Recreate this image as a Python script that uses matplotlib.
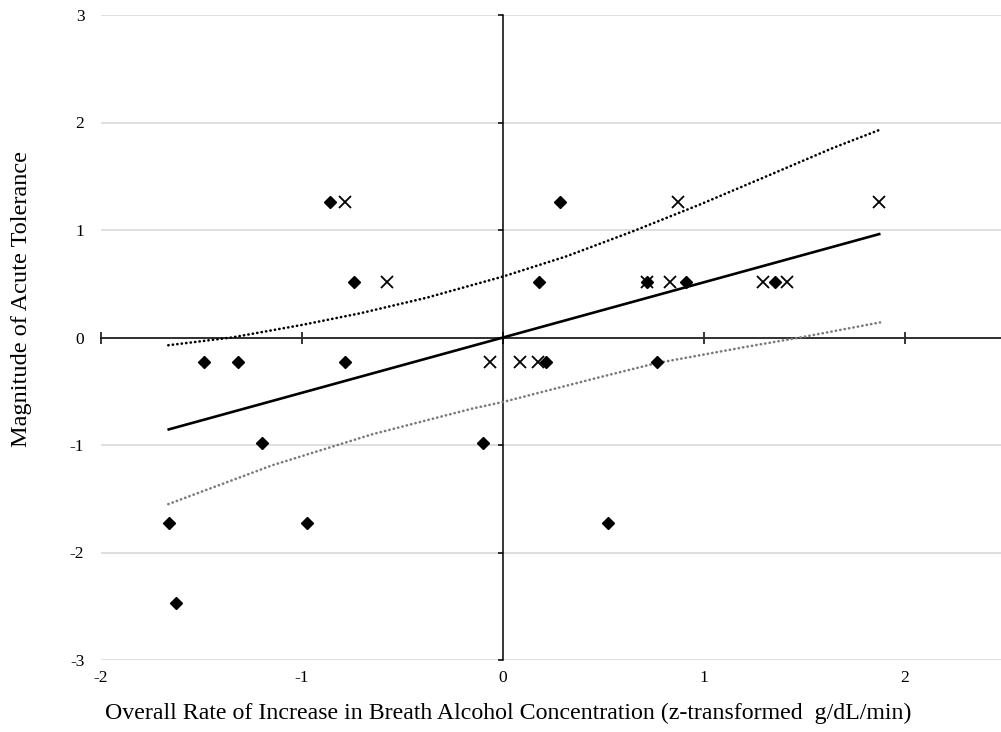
import matplotlib
matplotlib.use("Agg")
import matplotlib.pyplot as plt

plt.rcParams['font.family'] = ['Liberation Serif', 'DejaVu Serif']
plt.rcParams['axes.unicode_minus'] = False

# ---- data ----
diamond_x = [-0.86, -0.74, -1.488, -1.317, -0.786, -1.198, -0.098, -1.663, -0.977, -1.627,
             0.284, 0.179, 0.715, 0.91, 1.353, 0.764, 0.214, 0.524]
diamond_y = [1.265, 0.515, -0.23, -0.23, -0.23, -0.98, -0.98, -1.727, -1.727, -2.474,
             1.265, 0.515, 0.515, 0.515, 0.515, -0.23, -0.23, -1.727]

cross_x = [-0.785, -0.575, -0.065, 0.083, 0.176, 0.872, 1.872, 0.715, 0.831, 1.292, 1.411]
cross_y = [1.265, 0.515, -0.23, -0.23, -0.23, 1.265, 1.265, 0.515, 0.515, 0.515, 0.515]

fit_x = [-1.663, 1.872]
fit_y = [-0.855, 0.962]

upper_x = [-1.665, -1.35, -0.997, -0.711, -0.38, 0.0, 0.317, 0.648, 0.98, 1.312, 1.643, 1.872]
upper_y = [-0.072, 0.0, 0.118, 0.225, 0.37, 0.567, 0.756, 0.989, 1.237, 1.50, 1.764, 1.93]

lower_x = [-1.665, -1.15, -0.65, -0.15, 0.0, 0.48, 0.76, 1.2, 1.478, 1.876]
lower_y = [-1.55, -1.19, -0.90, -0.66, -0.60, -0.37, -0.24, -0.09, 0.0, 0.14]

x_ticks = [-2, -1, 0, 1, 2]
y_ticks = [-3, -2, -1, 0, 1, 2, 3]
x_label = "Overall Rate of Increase in Breath Alcohol Concentration (z-transformed  g/dL/min)"
y_label = "Magnitude of Acute Tolerance"

# ---- figure ----
fig = plt.figure(figsize=(10.01, 7.32), dpi=100)
ax = fig.add_axes([101 / 1001, 72 / 732, 900 / 1001, 645 / 732])
ax.set_xlim(-2, 2.478)
ax.set_ylim(-3, 3)

ax.yaxis.grid(True, color='#d9d9d9', lw=1.2, zorder=0)
ax.set_axisbelow(True)

for s in ['top', 'right']:
    ax.spines[s].set_visible(False)
ax.spines['left'].set_position(('data', 0))
ax.spines['bottom'].set_position(('data', 0))
ax.spines['left'].set_linewidth(1.1)
ax.spines['bottom'].set_linewidth(1.1)
ax.spines['left'].set_zorder(2)
ax.spines['bottom'].set_zorder(2)

ax.set_xticks(x_ticks)
ax.set_yticks(y_ticks)
ax.tick_params(axis='x', direction='inout', length=8, width=1.1, labelbottom=False)
ax.tick_params(axis='y', direction='out', length=3.6, width=1.1, labelleft=False)

# tick labels at the plot edges
sx = ax.secondary_xaxis(0.0)
sx.set_xticks(x_ticks)
sx.set_xticklabels([str(t) for t in x_ticks])
sx.tick_params(length=0, pad=7, labelsize=12.5)
sx.spines['bottom'].set_visible(False)

sy = ax.secondary_yaxis(0.0)
sy.set_yticks(y_ticks)
sy.set_yticklabels([str(t) for t in y_ticks])
sy.tick_params(length=0, pad=12, labelsize=12.5)
sy.spines['left'].set_visible(False)

# lines
dots = (0, (0.1, 1.6))
ax.plot(upper_x, upper_y, color='black', lw=1.9, linestyle=dots,
        dash_capstyle='round', zorder=3)
ax.plot(lower_x, lower_y, color='#7a7a7a', lw=1.9, linestyle=dots,
        dash_capstyle='round', zorder=3)
ax.plot(fit_x, fit_y, color='black', lw=1.9, zorder=3)

# markers
ax.plot(diamond_x, diamond_y, linestyle='none', marker='D', ms=6.5, color='black', zorder=4)
ax.plot(cross_x, cross_y, linestyle='none', marker='x', ms=8, mew=1.3, color='black', zorder=4)

fig.text(508 / 1001, 1 - 713 / 732, x_label, ha='center', va='center', fontsize=17.2)
fig.text(22 / 1001, 1 - 299 / 732, y_label, ha='center', va='center', rotation=90, fontsize=17.5)

fig.savefig('out.png', dpi=100)
